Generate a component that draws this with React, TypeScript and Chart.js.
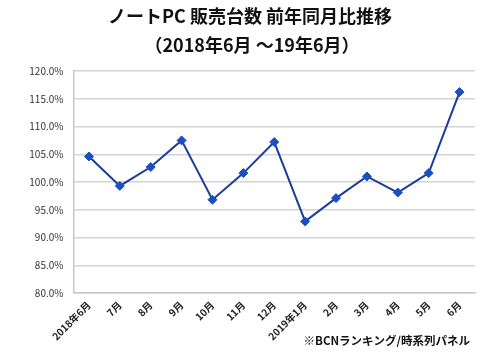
import React, { useEffect, useRef } from "react";
import { Chart, registerables } from "chart.js";

Chart.register(...registerables);

const titleLines = ["ノートPC 販売台数 前年同月比推移", "（2018年6月 ～19年6月）"];
const footnote = "※BCNランキング/時系列パネル";
const categories = ["2018年6月", "7月", "8月", "9月", "10月", "11月", "12月", "2019年1月", "2月", "3月", "4月", "5月", "6月"];
const values = [104.6, 99.3, 102.7, 107.5, 96.8, 101.6, 107.2, 92.9, 97.1, 101.0, 98.1, 101.6, 116.2];
const yMin = 80;
const yMax = 120;
const yStep = 5;

const FONT = "'Noto Sans CJK JP', 'Noto Sans', sans-serif";

export default function App() {
  const ref = useRef<HTMLCanvasElement | null>(null);
  useEffect(() => {
    if (!ref.current) return;
    const textPlugin = {
      id: "texts",
      afterDraw(chart: any) {
        const ctx = chart.ctx;
        ctx.save();
        ctx.fillStyle = "#111";
        ctx.textAlign = "center";
        ctx.textBaseline = "middle";
        ctx.font = `bold 18px ${FONT}`;
        ctx.fillText(titleLines[0], 250, 16);
        ctx.fillText(titleLines[1], 252, 45);
        ctx.textAlign = "right";
        ctx.font = `bold 11.5px ${FONT}`;
        ctx.fillText(footnote, 470, 341);
        ctx.restore();
      },
    };
    const chart = new Chart(ref.current, {
      type: "line",
      data: {
        labels: categories,
        datasets: [
          {
            data: values,
            borderColor: "#1c3d96",
            backgroundColor: "#1a4fc0",
            borderWidth: 2,
            pointStyle: "rectRot",
            pointRadius: 4.5,
            pointBackgroundColor: "#1a4fc0",
            pointBorderColor: "#1a4fc0",
            pointBorderWidth: 1,
            tension: 0,
          },
        ],
      },
      options: {
        animation: false,
        responsive: false,
        devicePixelRatio: 1,
        layout: { padding: { top: 71, right: 25, left: 0, bottom: 0 } },
        plugins: { legend: { display: false }, title: { display: false }, tooltip: { enabled: false } },
        scales: {
          x: {
            offset: true,
            grid: { display: false, drawTicks: false },
            border: { display: true, color: "#c8c8c8", width: 1.5 },
            ticks: {
              autoSkip: false,
              minRotation: 45,
              maxRotation: 45,
              padding: 6,
              color: "#222",
              font: { family: FONT, size: 10, weight: "bold" },
            },
            afterFit(scale: any) {
              scale.height = 60;
            },
          },
          y: {
            min: yMin,
            max: yMax,
            grid: { color: "#d4d4d4", lineWidth: 1.5, drawTicks: false },
            border: { display: true, color: "#c8c8c8", width: 1.5 },
            ticks: {
              stepSize: yStep,
              padding: 10,
              color: "#333",
              font: { family: FONT, size: 10 },
              callback: (v: any) => Number(v).toFixed(1) + "%",
            },
            afterFit(scale: any) {
              scale.width = 73.5;
            },
          },
        },
      },
      plugins: [textPlugin],
    });
    return () => chart.destroy();
  }, []);
  return (
    <div style={{ position: "fixed", left: 0, top: 0, width: 500, height: 353, background: "#fff" }}>
      <canvas ref={ref} width={500} height={353} style={{ display: "block" }} />
    </div>
  );
}
